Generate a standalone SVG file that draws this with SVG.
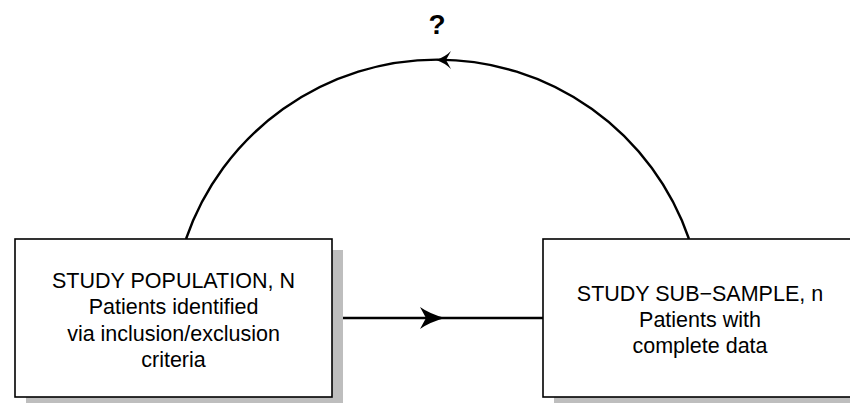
<svg xmlns="http://www.w3.org/2000/svg" width="850" height="403" viewBox="0 0 850 403">
  <style>
    .shadow { fill: #bebebe; }
    .box { fill: #ffffff; stroke: #000000; stroke-width: 1.6; }
    .label { font-family: "Liberation Sans", Arial, sans-serif; font-size: 21.5px; fill: #000000; text-anchor: middle; }
    .title { font-family: "Liberation Sans", Arial, sans-serif; font-size: 28px; font-weight: bold; fill: #000000; text-anchor: middle; }
    .edge { fill: none; stroke: #000000; stroke-width: 2.4; }
    .head { fill: #000000; stroke: none; }
  </style>

  <text class="title" x="437" y="34">?</text>

  <g id="connectors">
    <!-- return arc: sub-sample back to population -->
    <path class="edge" d="M 689 239 A 266 266 0 0 0 186 239"/>
    <path class="head" d="M 436 60 Q 445 57 451 51 L 446 60 L 451 69 Q 445 63 436 60 Z"/>
    <!-- population to sub-sample -->
    <path class="edge" d="M 343 318 L 543 318"/>
    <path class="head" d="M 445 318 Q 430 314 420 307 L 426 318 L 420 329 Q 430 322 445 318 Z"/>
  </g>

  <g id="population">
    <rect class="shadow" x="26" y="250" width="317" height="153"/>
    <rect class="box" x="15" y="239" width="317" height="158"/>
    <text class="label" x="173.5" y="288">STUDY POPULATION, N</text>
    <text class="label" x="173.5" y="314">Patients identified</text>
    <text class="label" x="173.5" y="340.5">via inclusion/exclusion</text>
    <text class="label" x="173.5" y="367">criteria</text>
  </g>

  <g id="subsample">
    <rect class="shadow" x="554" y="250" width="320" height="153"/>
    <rect class="box" x="543" y="239" width="320" height="158"/>
    <text class="label" x="700" y="300.7">STUDY SUB−SAMPLE, n</text>
    <text class="label" x="700" y="326.7">Patients with</text>
    <text class="label" x="700" y="352.7">complete data</text>
  </g>
</svg>
